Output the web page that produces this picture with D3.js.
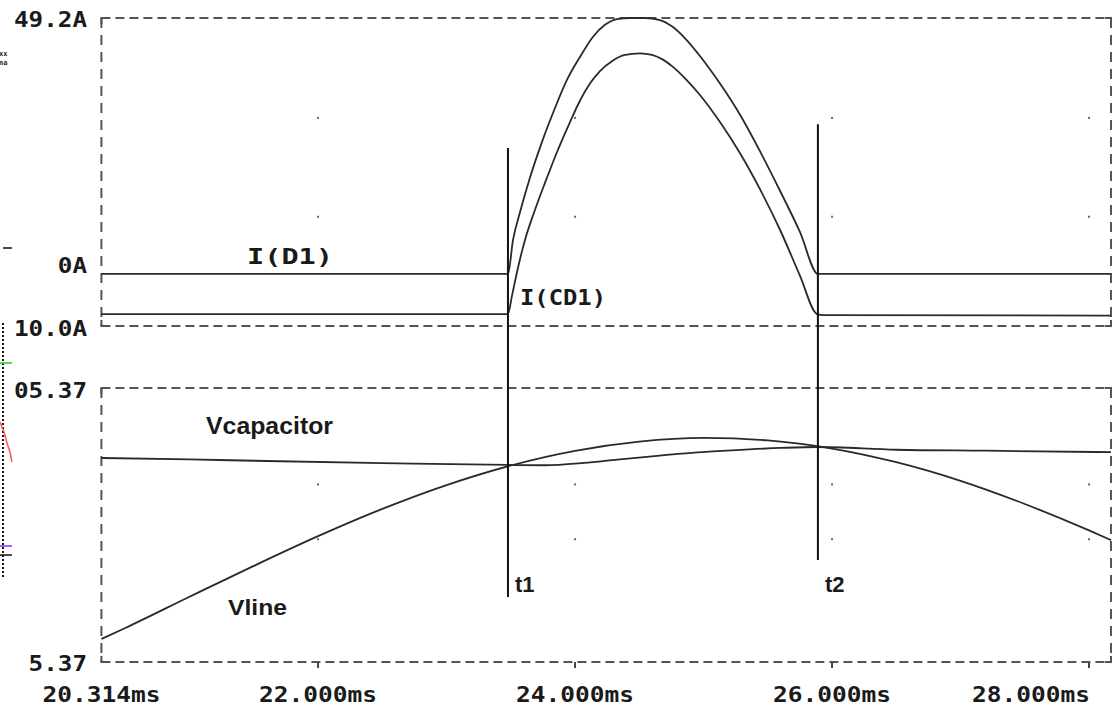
<!DOCTYPE html>
<html><head><meta charset="utf-8">
<script src="https://cdn.jsdelivr.net/npm/d3@7"></script>
<style>
body{margin:0;background:#fff;}
svg{display:block;background:#fff;}
</style></head><body>
<svg id="chart" width="1113" height="708"></svg>
<script>
// ---------- data ----------
const timeDomain = [20.314, 28.171];
const xTickValues = [20.314, 22, 24, 26, 28];
const xTickLabels = ["20.314ms", "22.000ms", "24.000ms", "26.000ms", "28.000ms"];

const currentDomain = [-10, 49.2];
const currentTickValues = [49.2, 0, -10];
const currentTickLabels = ["49.2A", "0A", "10.0A"];

const voltageDomain = [5.37, 205.37];
const voltageTickValues = [205.37, 5.37];
const voltageTickLabels = ["05.37", "5.37"];

const timeD1 = [20.314, 23.478, 23.517, 23.572, 23.649, 23.743, 23.844, 23.937, 24.038, 24.140, 24.233, 24.326, 24.428, 24.544, 24.661, 24.754, 24.856, 24.972, 25.128, 25.284, 25.439, 25.595, 25.750, 25.891, 28.171];
const currentD1 = [0, 0, 6.5, 11.9, 18.5, 25.4, 31.9, 37.3, 41.7, 45.6, 47.9, 49.0, 49.2, 49.2, 48.8, 47.6, 45.3, 41.9, 36.6, 30.6, 23.6, 16.0, 8.1, 0, 0];

const timeCD1 = [20.314, 23.478, 23.509, 23.556, 23.610, 23.688, 23.766, 23.859, 23.961, 24.038, 24.116, 24.194, 24.287, 24.389, 24.505, 24.599, 24.684, 24.762, 24.856, 24.972, 25.128, 25.284, 25.439, 25.595, 25.750, 25.883, 25.93, 28.171];
const currentCD1 = [-7.7, -7.7, -4.2, 1.2, 6.5, 12.3, 17.5, 23.4, 29.2, 33.3, 36.6, 39.0, 40.9, 42.1, 42.4, 42.1, 41.2, 39.8, 37.6, 34.4, 29.2, 23.2, 16.3, 8.5, -0.3, -7.7, -7.9, -8.0];

const timeVline = [20.314, 20.5, 21, 21.5, 22, 22.5, 23, 23.5, 24, 24.5, 25, 25.5, 26, 26.5, 27, 27.5, 28, 28.171];
const voltVline = [22.2, 30.2, 53.0, 75.5, 97.2, 117.1, 134.5, 148.8, 159.5, 166.2, 168.9, 167.1, 161.2, 151.2, 137.6, 120.7, 101.4, 94.3];

const timeVcap = [20.314, 21.0, 21.6, 22.5, 23.478, 23.765, 24.07, 24.33, 24.66, 24.95, 25.22, 25.6, 25.886, 26.5, 27.2, 28.171];
const voltVcap = [154.3, 153.2, 152.1, 150.6, 149.2, 149.0, 150.7, 153.1, 156.0, 158.4, 159.9, 161.6, 162.3, 160.3, 159.6, 158.5];

const cursorTimes = [23.478, 25.890];
const cursorLabels = ["t1", "t2"];
const cursorTopCurrent = [24.2, 28.8];
const cursorBottomVoltage = [52.8, 79.8];

const gridTimes = [22, 24, 26, 28];
const gridCurrents = [30, 11];
const gridVoltages = [135, 95];

// ---------- layout ----------
const svg = d3.select("#chart");
const left = 101.4, right = 1111;
const top1 = 18, bot1 = 326, top2 = 388, bot2 = 662;

const x = d3.scaleLinear().domain(timeDomain).range([left, right]);
const yI = d3.scaleLinear().domain(currentDomain).range([bot1, top1]);
const yV = d3.scaleLinear().domain(voltageDomain).range([bot2, top2]);

const monoFont = "'DejaVu Sans Mono', monospace";
const sansFont = "'Liberation Sans', Arial, sans-serif";
const ink = "#1a1a1a";

// panel borders (dashed)
function box(y0, y1) {
  const g = svg.append("g").attr("stroke", "#555").attr("stroke-width", 2).attr("fill", "none");
  g.append("line").attr("x1", left).attr("x2", right).attr("y1", y0).attr("y2", y0).attr("stroke-dasharray", "9,5");
  g.append("line").attr("x1", left).attr("x2", right).attr("y1", y1).attr("y2", y1).attr("stroke-dasharray", "9,5");
  g.append("line").attr("x1", left).attr("x2", left).attr("y1", y0).attr("y2", y1).attr("stroke-dasharray", "10,7");
  g.append("line").attr("x1", right).attr("x2", right).attr("y1", y0).attr("y2", y1).attr("stroke-dasharray", "10,7");
  const c = 6;
  g.append("path")
    .attr("d", `M${left},${y0 + c}V${y0}H${left + c} M${right - c},${y0}H${right}V${y0 + c} M${left},${y1 - c}V${y1}H${left + c} M${right - c},${y1}H${right}V${y1 - c}`);
}
box(top1, bot1);
box(top2, bot2);

// grid dots
const dots = [];
gridTimes.forEach(t => {
  gridCurrents.forEach(v => dots.push([x(t), yI(v)]));
  gridVoltages.forEach(v => dots.push([x(t), yV(v)]));
});
svg.append("g").selectAll("rect").data(dots).join("rect")
  .attr("x", d => d[0] - 1).attr("y", d => d[1] - 1).attr("width", 2).attr("height", 2).attr("fill", "#666");

// x ticks at bottom
svg.append("g").selectAll("line").data(gridTimes).join("line")
  .attr("x1", d => x(d)).attr("x2", d => x(d)).attr("y1", bot2).attr("y2", bot2 + 6)
  .attr("stroke", "#444").attr("stroke-width", 2);

// x labels
svg.append("g").selectAll("text").data(xTickValues).join("text")
  .attr("x", (d, i) => i === xTickValues.length - 1 ? x(d) - 117 : x(d) - 59)
  .attr("y", 702)
  .attr("textLength", 118).attr("lengthAdjust", "spacingAndGlyphs")
  .attr("font-family", monoFont).attr("font-weight", "bold").attr("font-size", 22)
  .attr("fill", ink)
  .text((d, i) => xTickLabels[i]);

// y labels (right-aligned at x=86)
const labelCharW = 14.6;
function yLabels(vals, labels, scale, offsets) {
  svg.append("g").selectAll("text").data(vals).join("text")
    .attr("x", (d, i) => 87 - labels[i].length * labelCharW)
    .attr("y", (d, i) => scale(d) + offsets[i])
    .attr("textLength", (d, i) => labels[i].length * labelCharW)
    .attr("lengthAdjust", "spacingAndGlyphs")
    .attr("font-family", monoFont).attr("font-weight", "bold").attr("font-size", 22)
    .attr("fill", ink)
    .text((d, i) => labels[i]);
}
yLabels(currentTickValues, currentTickLabels, yI, [9, -1, 10]);
yLabels(voltageTickValues, voltageTickLabels, yV, [10, 9]);

// series lines
const line = d3.line().x(d => x(d[0])).y(d => d[1]).curve(d3.curveMonotoneX);
function series(times, vals, scale) {
  svg.append("path")
    .attr("d", line(times.map((t, i) => [t, scale(vals[i])])))
    .attr("fill", "none").attr("stroke", "#2a2a2a").attr("stroke-width", 1.8);
}
series(timeD1, currentD1, yI);
series(timeCD1, currentCD1, yI);
series(timeVline, voltVline, yV);
series(timeVcap, voltVcap, yV);

// cursors
cursorTimes.forEach((t, i) => {
  svg.append("line")
    .attr("x1", x(t)).attr("x2", x(t))
    .attr("y1", yI(cursorTopCurrent[i])).attr("y2", yV(cursorBottomVoltage[i]))
    .attr("stroke", "#111").attr("stroke-width", 2);
  svg.append("text").attr("x", x(t) + 7).attr("y", 592)
    .attr("font-family", sansFont).attr("font-weight", "bold").attr("font-size", 22)
    .attr("fill", ink).text(cursorLabels[i]);
});

// trace labels
function tlabel(txt, tx, ty, len, font, size) {
  svg.append("text").attr("x", tx).attr("y", ty)
    .attr("textLength", len).attr("lengthAdjust", "spacingAndGlyphs")
    .attr("font-family", font).attr("font-weight", "bold").attr("font-size", size)
    .attr("fill", ink).text(txt);
}
tlabel("I(D1)", 247, 264, 86, monoFont, 22);
tlabel("I(CD1)", 520, 305, 86, monoFont, 22);
tlabel("Vcapacitor", 206, 434, 127, sansFont, 23);
tlabel("Vline", 228, 615, 59, sansFont, 22);

// left-edge overlay artifacts from another window
const ov = svg.append("g");
ov.append("line").attr("x1", 3).attr("x2", 3).attr("y1", 323).attr("y2", 578)
  .attr("stroke", "#111").attr("stroke-width", 2).attr("stroke-dasharray", "2,2");
ov.append("line").attr("x1", 0).attr("x2", 12).attr("y1", 363).attr("y2", 363).attr("stroke", "#22cc22").attr("stroke-width", 1.5);
ov.append("path").attr("d", "M0,422 L4,432 L7,443 L10,452 L12,462").attr("fill", "none").attr("stroke", "#ff5555").attr("stroke-width", 1.5);
ov.append("line").attr("x1", 0).attr("x2", 12).attr("y1", 546).attr("y2", 546).attr("stroke", "#7733ff").attr("stroke-width", 1.5);
ov.append("line").attr("x1", 0).attr("x2", 12).attr("y1", 555).attr("y2", 555).attr("stroke", "#111").attr("stroke-width", 1.5);
ov.append("line").attr("x1", 3).attr("x2", 12).attr("y1", 248).attr("y2", 248).attr("stroke", "#111").attr("stroke-width", 1.5);
ov.append("text").attr("x", -1).attr("y", 56).attr("font-family", monoFont).attr("font-weight", "bold").attr("font-size", 7).attr("fill", ink).text("xx");
ov.append("text").attr("x", -1).attr("y", 65).attr("font-family", monoFont).attr("font-weight", "bold").attr("font-size", 7).attr("fill", ink).text("na");
</script>
</body></html>
